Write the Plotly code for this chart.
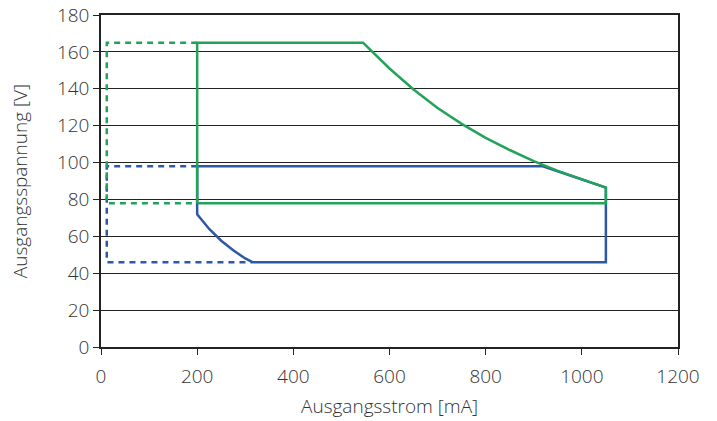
import plotly.graph_objects as go

# Green operating window (solid)
green_x = [200, 200, 545, 600, 650, 700, 750, 800, 850, 900, 950, 1000, 1050, 1050, 200]
green_y = [78, 165, 165, 151, 139.6, 129.6, 121, 113.4, 106.8, 100.8, 95.5, 90.8, 86.4, 78, 78]

# Blue operating window (solid)
blue_x = [315, 1050, 1050, 1000, 950, 919, 200, 200, 225, 250, 275, 300, 315]
blue_y = [46, 46, 86.4, 90.8, 95.5, 98, 98, 72, 64, 57.6, 52.4, 48, 46]

# Dashed extensions
green_dash_x = [200, 12, 12, 200]
green_dash_y = [165, 165, 78, 78]
blue_dash_x = [200, 12, 12, 315]
blue_dash_y = [98, 98, 46, 46]

x_ticks = [0, 200, 400, 600, 800, 1000, 1200]
y_ticks = [0, 20, 40, 60, 80, 100, 120, 140, 160, 180]
x_title = "Ausgangsstrom [mA]"
y_title = "Ausgangsspannung [V]"

GREEN = "#21A35A"
BLUE = "#2D58A8"

fig = go.Figure()
fig.add_trace(go.Scatter(x=blue_dash_x, y=blue_dash_y, mode="lines",
                         line=dict(color=BLUE, width=2.5, dash="6px,5px")))
fig.add_trace(go.Scatter(x=green_dash_x, y=green_dash_y, mode="lines",
                         line=dict(color=GREEN, width=2.5, dash="6px,5px")))
fig.add_trace(go.Scatter(x=blue_x, y=blue_y, mode="lines",
                         line=dict(color=BLUE, width=2.5)))
fig.add_trace(go.Scatter(x=green_x, y=green_y, mode="lines",
                         line=dict(color=GREEN, width=2.5)))

FAM = "Open Sans, Noto Sans, sans-serif"
tick_font = dict(family=FAM, size=19, color="#333", weight=300)
title_font = dict(family=FAM, size=19, color="#333", weight=300)

fig.update_layout(
    width=717, height=421,
    margin=dict(l=101, r=39, t=15, b=74),
    paper_bgcolor="white", plot_bgcolor="white",
    showlegend=False,
    xaxis=dict(range=[0, 1200], tickvals=x_ticks, tickfont=tick_font,
               showgrid=False, zeroline=False, showline=True, linecolor="#222",
               linewidth=1.5, mirror=True, ticks="outside", ticklen=6,
               tickcolor="#222", automargin=False, ticklabelstandoff=5),
    yaxis=dict(range=[0, 180], tickvals=y_ticks, tickfont=tick_font,
               showgrid=True, gridcolor="#222", gridwidth=1.3, zeroline=False,
               showline=True, linecolor="#222", linewidth=1.5, mirror=True,
               ticks="outside", ticklen=6, tickcolor="#222", automargin=False),
    annotations=[
        dict(text=x_title, xref="paper", yref="paper", x=0.5, y=-0.178,
             xanchor="center", yanchor="middle", showarrow=False, font=title_font),
        dict(text=y_title, xref="paper", yref="paper", x=-0.14, y=0.5,
             xanchor="center", yanchor="middle", textangle=-90, showarrow=False,
             font=title_font),
    ],
)
fig.write_html("out.html")
